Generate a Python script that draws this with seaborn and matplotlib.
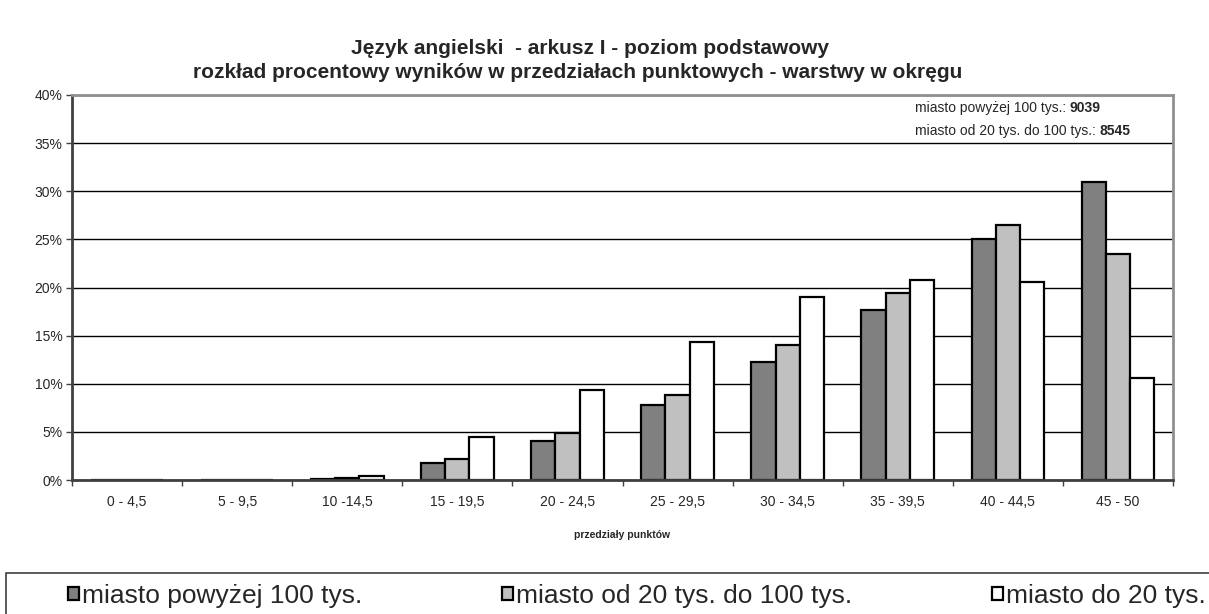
import pandas as pd
import seaborn as sns
import matplotlib.pyplot as plt
from matplotlib import font_manager
from matplotlib.patches import Rectangle
from matplotlib.ticker import PercentFormatter

przedzialy = ["0 - 4,5", "5 - 9,5", "10 -14,5", "15 - 19,5", "20 - 24,5",
              "25 - 29,5", "30 - 34,5", "35 - 39,5", "40 - 44,5", "45 - 50"]
warstwy = ["miasto powyżej 100 tys.", "miasto od 20 tys. do 100 tys.", "miasto do 20 tys."]
powyzej_100 = [0.0, 0.0, 0.15, 1.8, 4.1, 7.8, 12.3, 17.7, 25.0, 31.0]
od_20_do_100 = [0.0, 0.0, 0.2, 2.2, 4.9, 8.8, 14.0, 19.4, 26.5, 23.5]
do_20 = [0.0, 0.0, 0.4, 4.5, 9.3, 14.3, 19.0, 20.8, 20.6, 10.6]
liczebnosci = [("miasto powyżej 100 tys.: ", "9039"),
               ("miasto od 20 tys. do 100 tys.: ", "8545")]

df = pd.DataFrame({
    "przedzial": przedzialy * 3,
    "procent": powyzej_100 + od_20_do_100 + do_20,
    "warstwa": [w for w in warstwy for _ in przedzialy],
})

sns.set_style("white")
plt.rcParams["font.family"] = ["Liberation Sans", "DejaVu Sans"]

# legend uses a narrow face if there is one
try:
    font_manager.findfont("Liberation Sans Narrow", fallback_to_default=False)
    leg_font = {"family": "Liberation Sans Narrow", "size": 22}
except ValueError:
    leg_font = {"family": "Liberation Sans", "size": 19}

W, H = 1209, 614
fig = plt.figure(figsize=(W / 100, H / 100), dpi=100)
ax = fig.add_axes([72 / W, 134 / H, 1101 / W, 385 / H])

sns.barplot(
    data=df, x="przedzial", y="procent", hue="warstwa",
    palette=["#808080", "#c0c0c0", "#ffffff"], saturation=1,
    width=0.66, edgecolor="black", linewidth=1.6, ax=ax,
)

ax.set_ylim(0, 40)
ax.set_xlim(-0.5, 9.5)
ax.set_yticks(range(0, 45, 5))
ax.yaxis.set_major_formatter(PercentFormatter(xmax=100, decimals=0))
ax.set_xticks(range(10))
ax.set_xticklabels(przedzialy, fontsize=10)
ax.set_xticks([i + 0.5 for i in range(-1, 10)], minor=True)
ax.tick_params(axis="x", which="major", length=0, pad=11)
ax.tick_params(axis="x", which="minor", length=4, width=1, color="#404040", direction="out", bottom=True)
ax.tick_params(axis="y", length=4, width=1, color="#404040", direction="out", left=True, labelsize=10, pad=3)
ax.yaxis.grid(True, color="black", linewidth=1)
ax.set_axisbelow(True)

for side in ["left", "bottom"]:
    ax.spines[side].set_color("#404040")
    ax.spines[side].set_linewidth(2)
for side in ["top", "right"]:
    ax.spines[side].set_color("#909090")
    ax.spines[side].set_linewidth(2)

ax.set_ylabel("")
ax.set_xlabel("przedziały punktów", fontsize=7.5, fontweight="bold", labelpad=15)

fig.text(590 / W, 1 - 48 / H, "Język angielski  - arkusz I - poziom podstawowy",
         ha="center", va="center", fontsize=15, fontweight="bold")
fig.text(578 / W, 1 - 73 / H,
         "rozkład procentowy wyników w przedziałach punktowych - warstwy w okręgu",
         ha="center", va="center", fontsize=15, fontweight="bold")

for i, (txt, n) in enumerate(liczebnosci):
    y = 1 - (108 + 23 * i) / H
    t = fig.text(915 / W, y, txt, ha="left", va="center", fontsize=10)
    fig.canvas.draw()
    bb = t.get_window_extent()
    fig.text(bb.x1 / W, y, n, ha="left", va="center", fontsize=10, fontweight="bold")

# legend frame along the bottom edge
fig.patches.append(Rectangle((6 / W, -0.05), 1.1, 0.05 + 41 / H, transform=fig.transFigure,
                             facecolor="white", edgecolor="#404040", linewidth=1.2))

handles, labels = ax.get_legend_handles_labels()
ax.get_legend().remove()
fig.legend(
    handles, labels, ncol=3, loc="upper left", mode="expand",
    bbox_to_anchor=(68 / W, 1 - 590 / H, (1206 - 68) / W, 0.01),
    prop=leg_font, frameon=False,
    handlelength=0.42, handleheight=0.42, handletextpad=0.12,
    borderaxespad=0, borderpad=0,
)

fig.savefig("out.png", dpi=100)
